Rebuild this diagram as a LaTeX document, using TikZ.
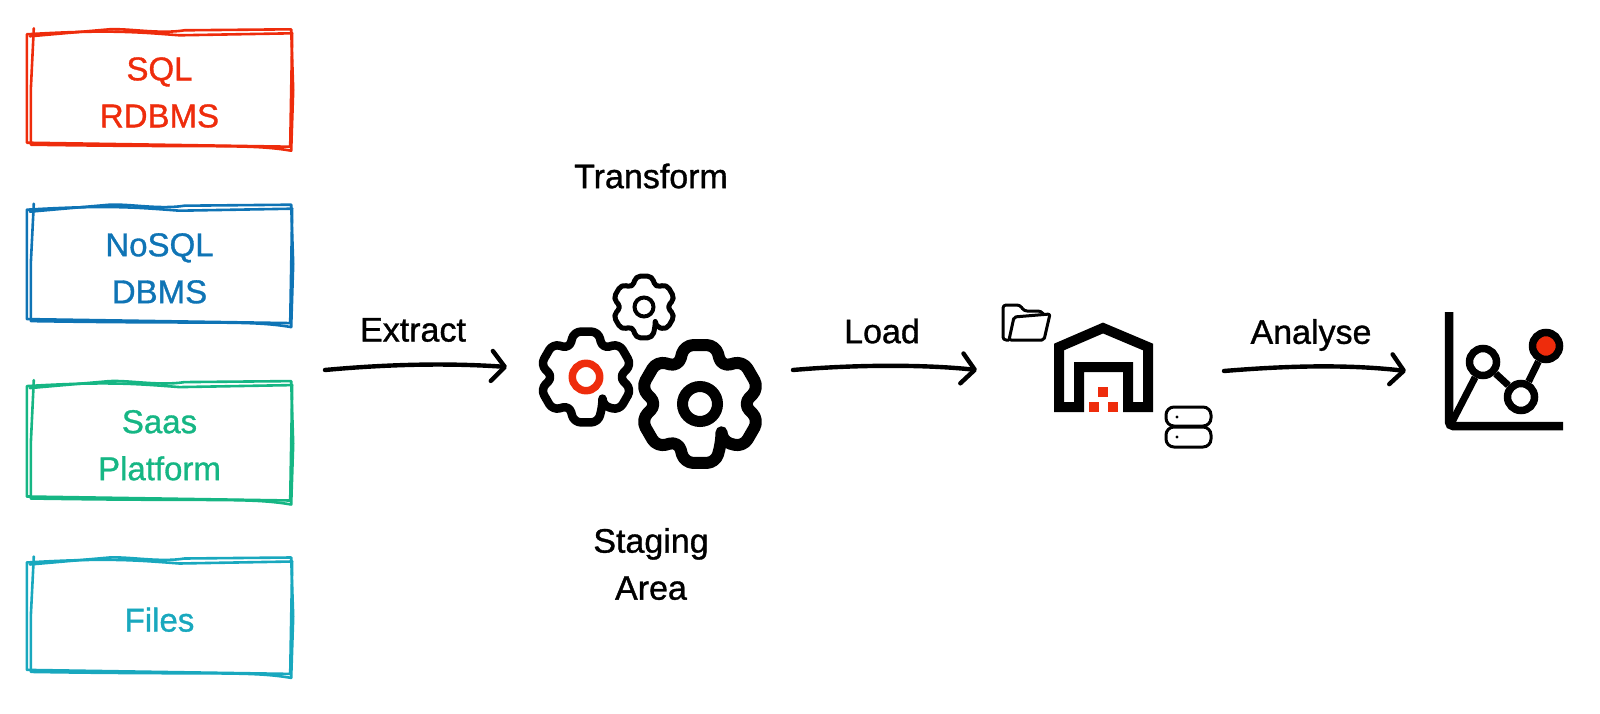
\documentclass[tikz,border=0pt]{standalone}
\usepackage{fontspec}
\setmainfont[FakeBold=1]{Liberation Sans}
\usetikzlibrary{positioning,arrows.meta}

\definecolor{sqlred}{HTML}{EE2C0C}
\definecolor{nosqlblue}{HTML}{0F74B5}
\definecolor{saasgreen}{HTML}{16B684}
\definecolor{filesteal}{HTML}{19A8BE}

% keeps the first line of a box a little lower
\newcommand{\boxlift}{\rule{0pt}{30pt}}

% two loose strokes round a box, #2 varies the wobble
\newcommand{\roughbox}[2]{
    \draw[rough] ([shift={(-1,1)}]#1.north west) .. controls ([shift={(-50,-4)}]#1.north) and ([shift={(-20,-1)}]#1.north) .. ([shift={(20,2)}]#1.north) -- ([shift={(1,0)}]#1.north east)
        -- ([shift={(-1,2)}]#1.south east) -- ([shift={(-1,-2)}]#1.south west) -- cycle;
    \draw[rough] ([shift={(6,-5)}]#1.north west) -- ([shift={(3,#2)}]#1.west) -- ([shift={(3,0)}]#1.south west)
        .. controls ([shift={(60,3)}]#1.south) and ([shift={(90,-1)}]#1.south) .. ([shift={(0,6)}]#1.south east)
        -- ([shift={(2,#2)}]#1.east) -- ([shift={(0,-4)}]#1.north east) -- ([shift={(25,-3)}]#1.north)
        .. controls ([shift={(0,1)}]#1.north) and ([shift={(-30,-5)}]#1.north) .. ([shift={(-50,-4)}]#1.north) -- ([shift={(2,3)}]#1.north west);
}

\tikzset{
    cog/.pic={
        \draw[cogline, rounded corners=\cogbend] (60:\cogvalley)
            \foreach \a in {90,150,210,270,330,390} { -- (\a-\cogwide:\cogtooth) -- (\a+\cogwide:\cogtooth) -- (\a+30:\cogvalley) } -- cycle;
    }
}

\begin{document}
\begin{tikzpicture}[x=1pt,y=-1pt]
        \tikzstyle{every node}=[font=\addfontfeature{FakeBold=1}\fontsize{34}{47}\selectfont]
        \tikzstyle{source}=[minimum width=263pt, align=center, inner sep=0pt, font=\addfontfeature{FakeBold=1}\fontsize{33}{47}\selectfont]
        \tikzstyle{rough}=[line width=2.6pt, line join=round, line cap=round]
        \tikzstyle{flow}=[line width=4.4pt, line cap=round, -{Straight Barb[length=13pt,width=30pt,round]}]
        \tikzstyle{dot}=[circle, draw=black, fill=white, inner sep=0pt, minimum size=27pt, line width=7.5pt]

        \useasboundingbox (0,0) rectangle (1600,714);

        % sources
        \node (sql)   [source, minimum height=111pt, text=sqlred] at (159.5,89) {\boxlift SQL\\RDBMS};
        \node (nosql) [source, minimum height=112pt, text=nosqlblue, below=64pt of sql] {\boxlift NoSQL\\DBMS};
        \node (saas)  [source, minimum height=113pt, text=saasgreen, below=64pt of nosql] {\boxlift Saas\\Platform};
        \node (files) [source, minimum height=110pt, text=filesteal, below=63pt of saas] {\boxlift Files};

        \begin{scope}[color=sqlred]
            \roughbox{sql}{1}
        \end{scope}
        \begin{scope}[color=nosqlblue]
            \roughbox{nosql}{-1}
        \end{scope}
        \begin{scope}[color=saasgreen]
            \roughbox{saas}{2}
        \end{scope}
        \begin{scope}[color=filesteal]
            \roughbox{files}{0}
        \end{scope}

        % arrows
        \coordinate (extract a) at (325,370);
        \coordinate (extract b) at (507,367);
        \coordinate (load a) at (793,370);
        \coordinate (load b) at (977,370);
        \coordinate (analyse a) at (1224,371);
        \coordinate (analyse b) at (1406,371);

        \draw[flow] (extract a) .. controls (390,364) and (450,363) .. (extract b);
        \draw[flow] (load a) .. controls (850,365) and (920,364) .. (load b);
        \draw[flow] (analyse a) .. controls (1285,366) and (1345,364) .. (analyse b);

        \node (extract) at (413,330) {Extract};
        \node (load)    at (882,331) {Load};
        \node (analyse) at (1311,335) {Analyse};

        \node (transform) at (651,176) {Transform};
        \node (staging)   at (651,564) [align=center] {Staging\\Area};

        % gears
        \def\cogwide{15}
        \def\cogtooth{61}\def\cogvalley{43}\def\cogbend{9pt}
        \tikzstyle{cogline}=[line width=12pt, line join=round]
        \pic at (700,404) {cog};
        \draw[line width=11pt] (700,404) circle (17.5);
        \def\cogtooth{47}\def\cogvalley{33}\def\cogbend{7pt}
        \tikzstyle{cogline}=[line width=8.5pt, line join=round]
        \pic at (586,377) {cog};
        \draw[line width=7.5pt, sqlred] (586,377) circle (13.7);
        \def\cogtooth{32}\def\cogvalley{22.5}\def\cogbend{5pt}
        \tikzstyle{cogline}=[line width=5pt, line join=round]
        \pic at (644,307) {cog};
        \draw[line width=4pt] (644,307) circle (9.5);

        % warehouse
        \draw[line width=10pt, miter limit=10] (1079,407) -- (1059,407) -- (1059,347) -- (1103,328) -- (1148,347) -- (1148,407) -- (1128,407) -- (1128,367) -- (1079,367) -- cycle;
        \fill[sqlred] (1098,387) rectangle (1108,397);
        \fill[sqlred] (1089,402) rectangle (1099,412);
        \fill[sqlred] (1108,402) rectangle (1118,412);

        % folder
        \draw[line width=3pt, line join=round, rounded corners=3pt] (1009,340) -- (1003,340) -- (1003,305) -- (1020,305) -- (1024,311) -- (1041,311) -- (1044,315);
        \draw[line width=3pt, line join=round, rounded corners=2pt] (1009,340) -- (1014,317) -- (1050,314) -- (1044,340) -- cycle;

        % server
        \draw[line width=3pt, rounded corners=8pt] (1166,407) rectangle (1211,426);
        \draw[line width=3pt, rounded corners=8pt] (1166,427) rectangle (1211,447);
        \fill (1177,417) circle (1.6);
        \fill (1177,437) circle (1.6);

        % chart
        \node (p1) [dot] at (1483,362) {};
        \node (p2) [dot] at (1521,397) {};
        \node (p3) [dot, fill=sqlred] at (1546,346) {};
        \coordinate (origin) at (1451,424);
        \draw[line width=8.5pt, rounded corners=4pt] (1449,312) -- (1449,426) -- (1563,426);
        \draw[line width=7pt] (origin) -- (p1) -- (p2) -- (p3);

    \end{tikzpicture}
\end{document}
